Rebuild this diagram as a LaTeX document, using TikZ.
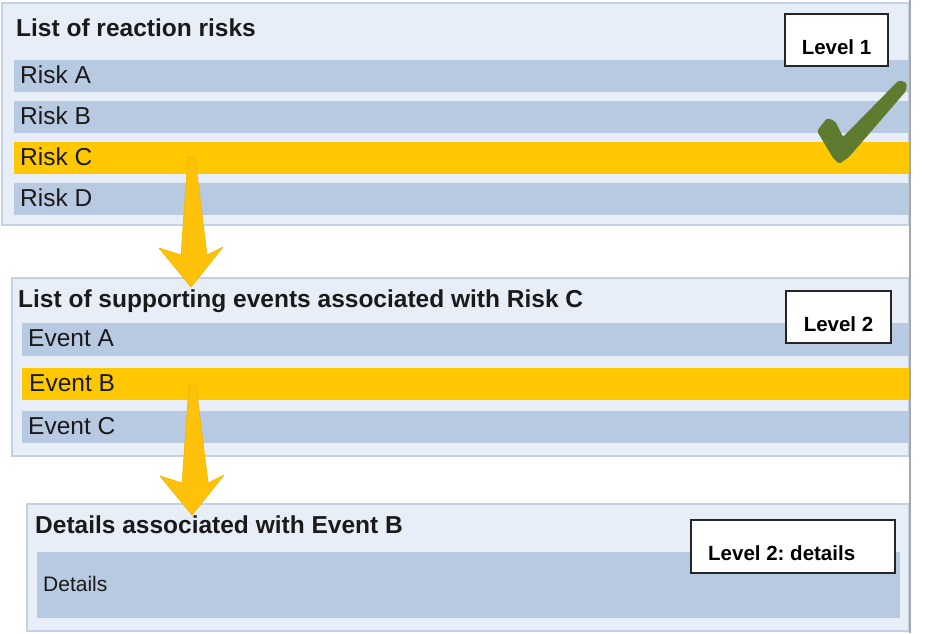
\documentclass[tikz,border=0pt]{standalone}
\usepackage{fontspec}
\setmainfont{Liberation Sans}
\frenchspacing
\definecolor{panelfill}{HTML}{E8EEF8}
\definecolor{paneldraw}{HTML}{C3D0E6}
\definecolor{rowfill}{HTML}{B8C9E2}
\definecolor{selfill}{HTML}{FFC800}
\definecolor{arrowfill}{HTML}{FFC20A}
\definecolor{arrowdraw}{HTML}{F2B400}
\definecolor{checkgreen}{HTML}{5E7B2F}
\definecolor{edgegray}{HTML}{A6A6A6}
\definecolor{txt}{HTML}{1A1A1A}
\begin{document}
\begin{tikzpicture}[x=1pt,y=-1pt,
  panel/.style={draw=paneldraw,line width=1.2pt,fill=panelfill,anchor=north west,inner sep=0pt,outer sep=0pt},
  row/.style={fill=rowfill,draw=none,anchor=north west,inner sep=0pt,outer sep=0pt},
  selrow/.style={row,fill=selfill},
  titletext/.style={anchor=base west,inner sep=0pt,font=\fontsize{24.5}{28}\selectfont\bfseries,text=txt},
  rowtext/.style={anchor=base west,inner sep=0pt,font=\fontsize{24.5}{28}\selectfont,text=txt},
  smalltext/.style={anchor=base west,inner sep=0pt,font=\fontsize{21}{24}\selectfont,text=txt},
  levelbox/.style={draw=black!85,line width=1.5pt,fill=white,anchor=north west,inner sep=0pt,outer sep=0pt},
  leveltext/.style={inner sep=0pt,font=\fontsize{20.5}{24}\selectfont\bfseries,text=black},
  blockarrow/.pic={\fill[arrowfill,draw=arrowdraw,line width=0.6pt,line join=round]
     (-3,0) -- (4,0) -- (16,98) -- (32,90) -- (0,130) -- (-32,91) -- (-10,98) -- cycle;}
]
\useasboundingbox (0,0) rectangle (942,633);
\fill[white] (0,0) rectangle (942,633);

% Level 1 panel
\node[panel,minimum width=907pt,minimum height=222pt] (p1) at (2,3) {};
\node[titletext] (t1) at (16,36) {List of reaction risks};
\node[row,minimum width=895pt,minimum height=32pt] (rA) at (14,60) {};
\node[row,minimum width=895pt,minimum height=32pt] (rB) at (14,101) {};
\node[selrow,minimum width=895pt,minimum height=32pt] (rC) at (14,142) {};
\node[row,minimum width=895pt,minimum height=32pt] (rD) at (14,183) {};
\node[rowtext] (tA) at (20,83) {Risk A};
\node[rowtext] (tB) at (20,124) {Risk B};
\node[rowtext] (tC) at (20,165) {Risk C};
\node[rowtext] (tD) at (20,206) {Risk D};

% Level 2 panel
\node[panel,minimum width=897pt,minimum height=178pt] (p2) at (12,278) {};
\node[titletext] (t2) at (18,307) {List of supporting events associated with Risk C};
\node[row,minimum width=887pt,minimum height=33pt] (eA) at (22,323) {};
\node[selrow,minimum width=887pt,minimum height=32pt] (eB) at (22,368) {};
\node[row,minimum width=887pt,minimum height=32pt] (eC) at (22,411) {};
\node[rowtext] (teA) at (28,346) {Event A};
\node[rowtext] (teB) at (29,391) {Event B};
\node[rowtext] (teC) at (28,434) {Event C};

% Details panel
\node[panel,minimum width=882pt,minimum height=127pt] (p3) at (27,504) {};
\node[titletext] (t3) at (35,533) {Details associated with Event B};
\node[row,minimum width=863pt,minimum height=66pt] (dr) at (37,552) {};
\node[smalltext] (td) at (43,591) {Details};

% right edge line
\coordinate (et) at (909.5,0);
\coordinate (eb) at (909.5,633);
\draw[edgegray,line width=2pt] (et) -- (eb);

% Level labels
\node[levelbox,minimum width=103pt,minimum height=52pt] (L1) at (785,14) {};
\node[leveltext,anchor=base] (L1t) at (836.5,54) {Level 1};
\node[levelbox,minimum width=105pt,minimum height=52pt] (L2) at (786,291) {};
\node[leveltext,anchor=base] (L2t) at (838.5,331) {Level 2};
\node[levelbox,minimum width=204pt,minimum height=53pt] (L3) at (691,520) {};
\node[leveltext,anchor=base west] (L3t) at (708,560) {Level 2: details};

% block arrows
\coordinate (a1) at (191,157);
\coordinate (a2) at (192,385);
\pic at (a1) {blockarrow};
\pic at (a2) {blockarrow};

% check mark
\fill[checkgreen,rounded corners=2pt]
  (817,131) -- (827,118) -- (835,121) -- (843,137) -- (899,80) -- (907,83) -- (906,91)
  -- (849,157) -- (839,164) -- (833,158) -- cycle;
\end{tikzpicture}
\end{document}
